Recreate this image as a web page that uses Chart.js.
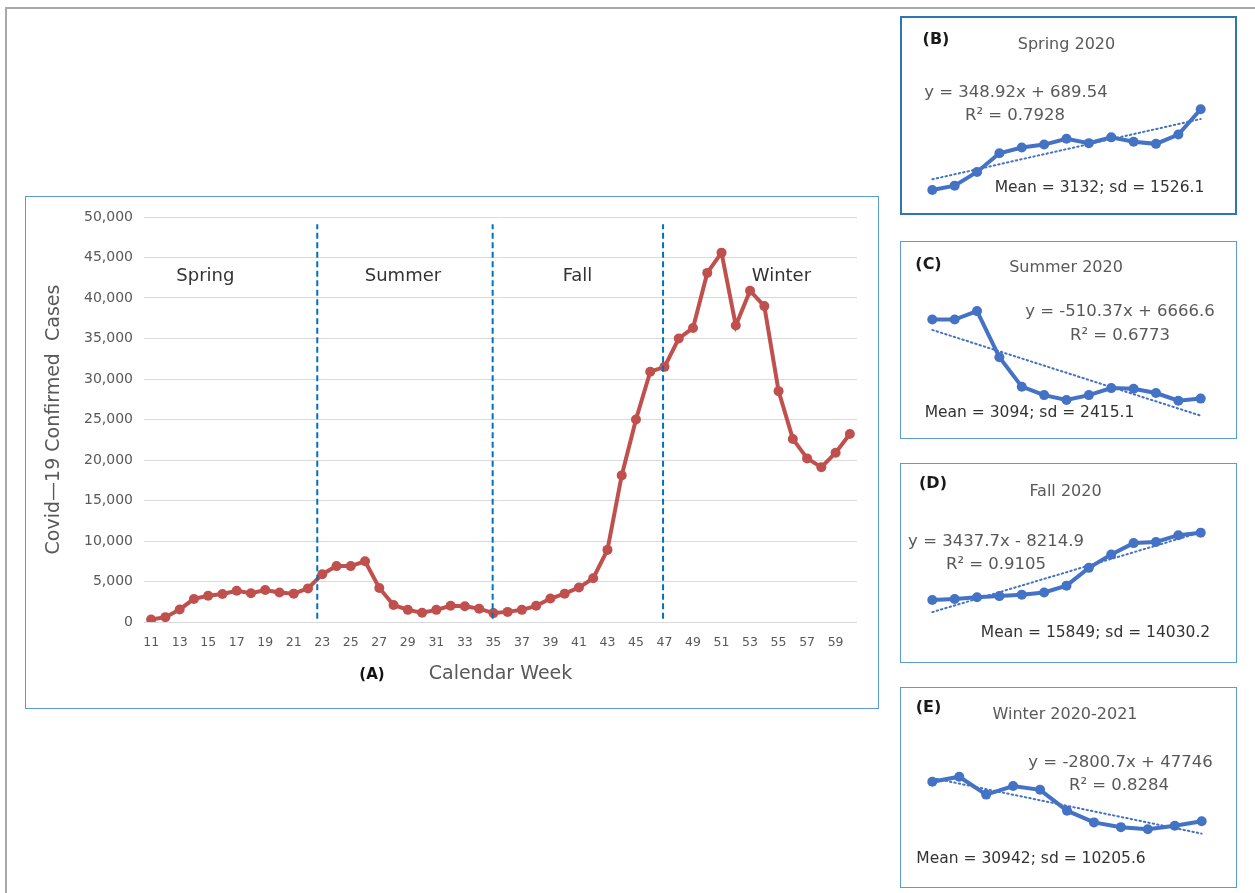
<!DOCTYPE html>
<html>
<head>
<meta charset="utf-8">
<title>Covid-19 weekly confirmed cases</title>
<script src="https://cdn.jsdelivr.net/npm/chart.js@4.4.1/dist/chart.umd.min.js"></script>
<style>
  body { margin: 0; background: #fff; width: 1255px; height: 893px; overflow: hidden; position: relative; font-family: 'DejaVu Sans', sans-serif; }
  .frame { position: absolute; left: 5px; top: 7px; right: 0; bottom: 0; border-top: 2px solid #a9a9a9; border-left: 2px solid #a9a9a9; }
  .box { position: absolute; box-sizing: border-box; border: 1.5px solid #5b9bd5; pointer-events: none; }
  canvas { position: absolute; }
  .txt { position: absolute; transform: translate(-50%, -50%); white-space: nowrap; line-height: 1; }
</style>
</head>
<body>
<div class="frame"></div>
<canvas id="mainChart" width="854" height="513" style="left:25px;top:196px"></canvas>
<div class="box" style="left:25px;top:196px;width:854px;height:513px"></div>
<div class="txt" style="left:372px;top:674px;font-weight:bold;font-size:15px;color:#111">(A)</div>
<div id="panels"></div>
<script>
// weekly confirmed cases, calendar weeks 11..60
const weeks = [11, 12, 13, 14, 15, 16, 17, 18, 19, 20, 21, 22, 23, 24, 25, 26, 27, 28, 29, 30,
  31, 32, 33, 34, 35, 36, 37, 38, 39, 40, 41, 42, 43, 44, 45, 46, 47, 48, 49, 50,
  51, 52, 53, 54, 55, 56, 57, 58, 59, 60];
const cases = [300, 600, 1550, 2850, 3250, 3450, 3850, 3550, 3950, 3650,
  3500, 4150, 5900, 6900, 6900, 7500, 4200, 2100, 1500, 1150,
  1500, 2000, 1950, 1650, 1100, 1250, 1500, 2000, 2900, 3500,
  4250, 5400, 8900, 18100, 25000, 30900, 31500, 35000, 36300, 43100,
  45600, 36600, 40900, 39000, 28500, 22600, 20200, 19100, 20900, 23200];
const weekTicks = [11, 13, 15, 17, 19, 21, 23, 25, 27, 29, 31, 33, 35, 37, 39, 41, 43, 45, 47, 49, 51, 53, 55, 57, 59];
const caseTicks = [0, 5000, 10000, 15000, 20000, 25000, 30000, 35000, 40000, 45000, 50000];
const seasonNames = ['Spring', 'Summer', 'Fall', 'Winter'];
const seasonBreaks = [22.65, 34.95, 46.9];

// season panels B..E
const panelLetters = ['(B)', '(C)', '(D)', '(E)'];
const panelTitles = ['Spring 2020', 'Summer 2020', 'Fall 2020', 'Winter 2020-2021'];
const panelFirstWeek = [11, 24, 37, 50];
const panelLastWeek = [23, 36, 49, 60];
const trendSlope = [348.92, -510.37, 3437.7, -2800.7];
const trendIntercept = [689.54, 6666.6, -8214.9, 47746];
const trendR2 = ['0.7928', '0.6773', '0.9105', '0.8284'];
const seasonMean = ['3132', '3094', '15849', '30942'];
const seasonSd = ['1526.1', '2415.1', '14030.2', '10205.6'];

Chart.defaults.font.family = "'DejaVu Sans', sans-serif";

// where the season names sit, in (week, cases)
const seasonLabelAt = [[14.8, 42700], [28.66, 42700], [40.9, 42700], [55.2, 42700]];

const seasonLabels = {
  id: 'seasonLabels',
  afterDatasetsDraw(chart) {
    const { ctx, scales: { x, y } } = chart;
    ctx.save();
    ctx.font = "18px 'DejaVu Sans'";
    ctx.fillStyle = '#333333';
    ctx.textAlign = 'center';
    ctx.textBaseline = 'middle';
    seasonNames.forEach((name, i) => {
      ctx.fillText(name, x.getPixelForValue(seasonLabelAt[i][0]), y.getPixelForValue(seasonLabelAt[i][1]));
    });
    ctx.restore();
  }
};

const breakSets = seasonBreaks.map((b) => ({
  data: [{ x: b, y: 400 }, { x: b, y: 49100 }],
  borderColor: '#0070c0',
  borderWidth: 2,
  borderDash: [6, 3.5],
  pointRadius: 0,
  order: 0
}));

new Chart(document.getElementById('mainChart'), {
  type: 'line',
  data: {
    datasets: [
      ...breakSets,
      {
        data: weeks.map((w, i) => ({ x: w, y: cases[i] })),
        borderColor: '#c0504d',
        backgroundColor: '#c0504d',
        borderWidth: 4,
        pointRadius: 5,
        pointBorderWidth: 0,
        tension: 0,
        order: 1
      }
    ]
  },
  options: {
    responsive: false,
    animation: false,
    events: [],
    layout: { padding: { left: 0, right: 22, top: 21, bottom: 0 } },
    plugins: { legend: { display: false }, tooltip: { enabled: false } },
    scales: {
      x: {
        type: 'linear',
        min: 10.5,
        max: 60.5,
        afterBuildTicks: (s) => { s.ticks = weekTicks.map((v) => ({ value: v })); },
        afterFit: (s) => { s.height = 87; },
        grid: { display: false, drawTicks: false },
        border: { display: false },
        ticks: { padding: 13.5, color: '#595959', font: { size: 12.5 }, autoSkip: false, maxRotation: 0, callback: (v) => v },
        title: { display: true, text: 'Calendar Week', color: '#595959', font: { size: 19 }, padding: { top: 0, bottom: 24 } }
      },
      y: {
        min: 0,
        max: 50000,
        afterBuildTicks: (s) => { s.ticks = caseTicks.map((v) => ({ value: v })); },
        afterFit: (s) => { s.width = 119; },
        grid: { color: '#d9d9d9', lineWidth: 1, drawTicks: false },
        border: { display: false },
        ticks: { padding: 11, color: '#595959', font: { size: 14 }, callback: (v) => v.toLocaleString('en-US') },
        title: { display: true, text: 'Covid—19 Confirmed  Cases', color: '#595959', font: { size: 19 }, padding: { top: 18, bottom: 0 } }
      }
    }
  },
  plugins: [seasonLabels]
});

// panel boxes and text centres (page pixels)
const panelLayout = [
  { left: 900, top: 16, width: 337, height: 199, border: '2.5px solid #2e75b6',
    pad: { left: 32.3, right: 36.3, top: 63, bottom: 20.7 }, yMin: 0, yMax: 8000,
    letter: [936, 39], title: [1066.5, 44.3], eq: [1016, 91.7], r2: [1015, 115], mean: [1099.5, 187.7] },
  { left: 900, top: 241, width: 337, height: 198, border: '1.5px solid #5b9bd5',
    pad: { left: 32.3, right: 36.3, top: 63.1, bottom: 22.9 }, yMin: 0, yMax: 8000,
    letter: [928.5, 264], title: [1066, 266.7], eq: [1120, 311], r2: [1120, 335], mean: [1029.5, 413.3] },
  { left: 900, top: 463, width: 337, height: 200, border: '1.5px solid #5b9bd5',
    pad: { left: 32.3, right: 36.3, top: 62.5, bottom: 40.8 }, yMin: -10000, yMax: 40000,
    letter: [933, 483], title: [1065.5, 490.7], eq: [996, 540.7], r2: [996, 564], mean: [1095.5, 633.3] },
  { left: 900, top: 687, width: 337, height: 201, border: '1.5px solid #5b9bd5',
    pad: { left: 32.3, right: 35.3, top: 81, bottom: 40.6 }, yMin: 10000, yMax: 50000,
    letter: [928.5, 706.7], title: [1065, 714], eq: [1120.5, 762.3], r2: [1119, 785], mean: [1031, 859] }
];

const host = document.getElementById('panels');

function addText(text, at, style) {
  const d = document.createElement('div');
  d.className = 'txt';
  d.textContent = text;
  d.style.cssText = `left:${at[0]}px;top:${at[1]}px;${style}`;
  host.appendChild(d);
}

panelLayout.forEach((p, k) => {
  const cv = document.createElement('canvas');
  cv.width = p.width;
  cv.height = p.height;
  cv.style.left = p.left + 'px';
  cv.style.top = p.top + 'px';
  host.appendChild(cv);

  const box = document.createElement('div');
  box.className = 'box';
  box.style.cssText = `left:${p.left}px;top:${p.top}px;width:${p.width}px;height:${p.height}px;border:${p.border}`;
  host.appendChild(box);

  const vals = cases.slice(panelFirstWeek[k] - 11, panelLastWeek[k] - 10);
  const n = vals.length;
  const a = trendSlope[k];
  const b = trendIntercept[k];

  new Chart(cv, {
    type: 'line',
    data: {
      datasets: [
        {
          data: vals.map((v, i) => ({ x: i + 1, y: v })),
          borderColor: '#4472c4',
          backgroundColor: '#4472c4',
          borderWidth: 4,
          pointRadius: 5,
          pointBorderWidth: 0,
          clip: false,
          order: 0
        },
        {
          data: [{ x: 1, y: a + b }, { x: n, y: a * n + b }],
          borderColor: '#4472c4',
          borderWidth: 2,
          borderDash: [1.5, 3],
          borderCapStyle: 'round',
          pointRadius: 0,
          clip: false,
          order: 1
        }
      ]
    },
    options: {
      responsive: false,
      animation: false,
      events: [],
      layout: { padding: p.pad },
      plugins: { legend: { display: false }, tooltip: { enabled: false } },
      scales: {
        x: { type: 'linear', min: 1, max: n, display: false },
        y: { min: p.yMin, max: p.yMax, display: false }
      }
    }
  });

  const eq = `y = ${a}x ${b < 0 ? '-' : '+'} ${Math.abs(b)}`;
  addText(panelLetters[k], p.letter, 'font-weight:bold;font-size:16px;color:#1a1a1a');
  addText(panelTitles[k], p.title, 'font-size:16px;color:#595959');
  addText(eq, p.eq, 'font-size:16.5px;color:#595959');
  addText(`R² = ${trendR2[k]}`, p.r2, 'font-size:16.5px;color:#595959');
  addText(`Mean = ${seasonMean[k]}; sd = ${seasonSd[k]}`, p.mean, 'font-size:15.5px;color:#333');
});
</script>
</body>
</html>
